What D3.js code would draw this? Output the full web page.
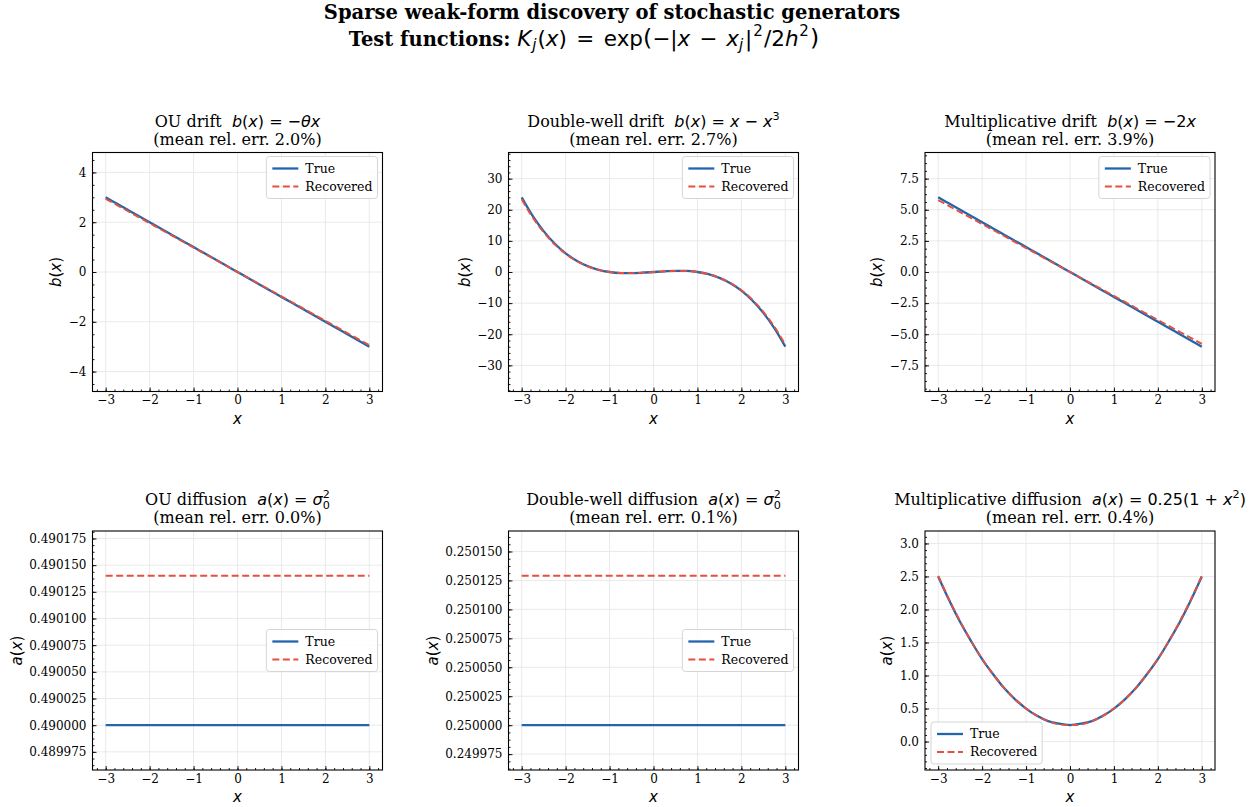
<!DOCTYPE html>
<html lang="en">
<head>
<meta charset="utf-8">
<script src="https://d3js.org/d3.v7.min.js"></script>
<style>
  body { margin: 0; background: #ffffff; }
  svg { display: block; }
  text { white-space: pre; }
  .tick text { font-family: "DejaVu Serif", serif; font-size: 12px; fill: #000; }
  .tick line { stroke: #000; stroke-width: 0.9; }
  .grid line { stroke: #e4e4e4; stroke-width: 0.8; }
</style>
</head>
<body>
<script>
// ---- data ----
var xs = [-3, -2.75, -2.5, -2.25, -2, -1.75, -1.5, -1.25, -1, -0.75, -0.5, -0.25, 0,
          0.25, 0.5, 0.75, 1, 1.25, 1.5, 1.75, 2, 2.25, 2.5, 2.75, 3];
var xsFlat = [-3, 3];

// OU drift
var ouTrue = [3, 2.75, 2.5, 2.25, 2, 1.75, 1.5, 1.25, 1, 0.75, 0.5, 0.25, 0,
              -0.25, -0.5, -0.75, -1, -1.25, -1.5, -1.75, -2, -2.25, -2.5, -2.75, -3];
var ouRec = [2.94, 2.695, 2.45, 2.205, 1.96, 1.715, 1.47, 1.225, 0.98, 0.735, 0.49, 0.245, 0,
             -0.245, -0.49, -0.735, -0.98, -1.225, -1.47, -1.715, -1.96, -2.205, -2.45, -2.695, -2.94];
// double-well drift
var dwTrue = [24, 18.05, 13.13, 9.14, 6, 3.61, 1.88, 0.70, 0, -0.33, -0.38, -0.23, 0,
              0.23, 0.38, 0.33, 0, -0.70, -1.88, -3.61, -6, -9.14, -13.13, -18.05, -24];
var dwRec = [23.35, 17.55, 12.78, 8.9, 5.84, 3.52, 1.83, 0.69, 0, -0.31, -0.36, -0.22, 0,
             0.22, 0.36, 0.31, 0, -0.69, -1.83, -3.52, -5.84, -8.9, -12.78, -17.55, -23.35];
// multiplicative drift
var mulTrue = [6, 5.5, 5, 4.5, 4, 3.5, 3, 2.5, 2, 1.5, 1, 0.5, 0,
               -0.5, -1, -1.5, -2, -2.5, -3, -3.5, -4, -4.5, -5, -5.5, -6];
var mulRec = [5.77, 5.29, 4.81, 4.33, 3.85, 3.37, 2.89, 2.4, 1.92, 1.44, 0.96, 0.48, 0,
              -0.48, -0.96, -1.44, -1.92, -2.4, -2.89, -3.37, -3.85, -4.33, -4.81, -5.29, -5.77];
// diffusions
var ouDiffTrue = [0.49, 0.49];
var ouDiffRec = [0.49014, 0.49014];
var dwDiffTrue = [0.25, 0.25];
var dwDiffRec = [0.250129, 0.250129];
var mulDiffTrue = [2.5, 2.14, 1.81, 1.52, 1.25, 1.02, 0.81, 0.64, 0.5, 0.39, 0.31, 0.27, 0.25,
                   0.27, 0.31, 0.39, 0.5, 0.64, 0.81, 1.02, 1.25, 1.52, 1.81, 2.14, 2.5];
var mulDiffRec = [2.51, 2.15, 1.82, 1.52, 1.25, 1.02, 0.81, 0.64, 0.5, 0.39, 0.31, 0.26, 0.248,
                  0.26, 0.31, 0.39, 0.5, 0.64, 0.81, 1.02, 1.25, 1.52, 1.82, 2.15, 2.51];

// tick labels
var xTicks = [-3, -2, -1, 0, 1, 2, 3];
var ticksOU = [-4, -2, 0, 2, 4];
var ticksDW = [-30, -20, -10, 0, 10, 20, 30];
var ticksMul = [-7.5, -5, -2.5, 0, 2.5, 5, 7.5];
var ticksOUd = [0.489975, 0.49, 0.490025, 0.49005, 0.490075, 0.4901, 0.490125, 0.49015, 0.490175];
var ticksDWd = [0.249975, 0.25, 0.250025, 0.25005, 0.250075, 0.2501, 0.250125, 0.25015];
var ticksMuld = [0, 0.5, 1, 1.5, 2, 2.5, 3];
var seriesNames = ["True", "Recovered"];

var W = 1256, H = 807;
var trueColor = "#2166ac", recColor = "#e5503f";
var SERIF = "'DejaVu Serif', serif", MATH = "'DejaVu Sans', sans-serif";

var svg = d3.select("body").append("svg").attr("width", W).attr("height", H);

// write mixed serif / math text into a <text> using tspans
// seg: [text, kind, pos, dx]  kind: s serif, b bold serif, i math italic, r math roman ; pos: sup/sub
// fsB: optional size for the bold / serif parts
function richText(sel, segs, fs, fsB) {
  var cur = 0;
  segs.forEach(function(sg) {
    var t = sel.append("tspan").text(sg[0]);
    var k = sg[1], pos = sg[2];
    var size = fs;
    if (k === "s") { t.style("font-family", SERIF); size = fsB || fs; }
    if (k === "b") { t.style("font-family", SERIF).style("font-weight", "bold"); size = fsB || fs; }
    if (k === "i") t.style("font-family", MATH).style("font-style", "italic");
    if (k === "r") t.style("font-family", MATH);
    if (k === "big") { t.style("font-family", MATH); size = fs * 1.1; }
    var target = 0;
    if (pos === "sup") { size = fs * 0.7; target = -0.42 * fs; }
    if (pos === "sub") { size = fs * 0.7; target = 0.22 * fs; }
    if (sg[3]) t.attr("dx", sg[3] * size);
    t.style("font-size", size + "px");
    if (target !== cur) { t.attr("dy", target - cur); cur = target; }
  });
}

// suptitle
svg.append("text").attr("x", 612).attr("y", 19).attr("text-anchor", "middle")
  .style("font-family", SERIF).style("font-weight", "bold").style("font-size", "19.5px")
  .text("Sparse weak-form discovery of stochastic generators");
richText(svg.append("text").attr("x", 584).attr("y", 45.5).attr("text-anchor", "middle"), [
  ["Test functions: ", "b"], ["K", "i"], ["j", "i", "sub", 0.05], ["(", "r", null, 0.05], ["x", "i"], [")", "r"],
  [" = ", "r", null, 0.12], ["exp", "r", null, 0.12], ["(", "big"], ["\u2212|", "r"], ["x", "i"],
  [" \u2212 ", "r", null, 0.1], ["x", "i", null, 0.1], ["j", "i", "sub"], ["|", "r", null, 0.08],
  ["2", "r", "sup", 0.08], ["/2", "r", null, 0.05], ["h", "i"], ["2", "r", "sup", 0.05], [")", "big", null, 0.05]
], 21.5, 19.5);

var colsX = [92.5, 508.5, 925], rowsY = [152.5, 531], pw = 290, ph = 239;

var panels = [
  { c: 0, r: 0, x: xs, t: ouTrue, rec: ouRec, yt: ticksOU, minor: 0.5, fmt: d3.format("d"), lab: "b", leg: "ur",
    title: [["OU drift  ", "s"], ["b", "i"], ["(", "r"], ["x", "i"], [") = \u2212", "r"], ["\u03b8x", "i"]], err: "2.0%" },
  { c: 1, r: 0, x: xs, t: dwTrue, rec: dwRec, yt: ticksDW, minor: 2, fmt: d3.format("d"), lab: "b", leg: "ur",
    title: [["Double-well drift  ", "s"], ["b", "i"], ["(", "r"], ["x", "i"], [") = ", "r"], ["x", "i"], [" \u2212 ", "r"], ["x", "i"], ["3", "r", "sup"]], err: "2.7%" },
  { c: 2, r: 0, x: xs, t: mulTrue, rec: mulRec, yt: ticksMul, minor: 0.625, fmt: d3.format(".1f"), lab: "b", leg: "ur",
    title: [["Multiplicative drift  ", "s"], ["b", "i"], ["(", "r"], ["x", "i"], [") = \u22122", "r"], ["x", "i"]], err: "3.9%" },
  { c: 0, r: 1, x: xsFlat, t: ouDiffTrue, rec: ouDiffRec, yt: ticksOUd, minor: 0.00000625, fmt: d3.format(".6f"), lab: "a", leg: "cr",
    title: [["OU diffusion  ", "s"], ["a", "i"], ["(", "r"], ["x", "i"], [") = ", "r"], ["\u03c3", "i"], ["2", "r", "sup"], ["0", "r", "sub", -0.636]], err: "0.0%" },
  { c: 1, r: 1, x: xsFlat, t: dwDiffTrue, rec: dwDiffRec, yt: ticksDWd, minor: 0.00000625, fmt: d3.format(".6f"), lab: "a", leg: "cr",
    title: [["Double-well diffusion  ", "s"], ["a", "i"], ["(", "r"], ["x", "i"], [") = ", "r"], ["\u03c3", "i"], ["2", "r", "sup"], ["0", "r", "sub", -0.636]], err: "0.1%" },
  { c: 2, r: 1, x: xs, t: mulDiffTrue, rec: mulDiffRec, yt: ticksMuld, minor: 0.1, fmt: d3.format(".1f"), lab: "a", leg: "ll",
    title: [["Multiplicative diffusion  ", "s"], ["a", "i"], ["(", "r"], ["x", "i"], [") = 0.25(1 + ", "r"], ["x", "i"], ["2", "r", "sup"], [")", "r"]], err: "0.4%" }
];

var line = d3.line().curve(d3.curveMonotoneX);

function minorTicks(lo, hi, step) {
  var out = [];
  var n0 = Math.ceil(lo / step - 1e-9), n1 = Math.floor(hi / step + 1e-9);
  for (var n = n0; n <= n1; n++) out.push(n * step);
  return out;
}

panels.forEach(function(p) {
  var left = colsX[p.c], top = rowsY[p.r];
  var g = svg.append("g").attr("transform", "translate(" + left + "," + top + ")");

  var x = d3.scaleLinear().domain([-3.3, 3.3]).range([0, pw]);
  var all = p.t.concat(p.rec);
  var lo = d3.min(all), hi = d3.max(all), span = hi - lo;
  var y = d3.scaleLinear().domain([lo - 0.3 * span, hi + 0.3 * span]).range([ph, 0]);

  // grid
  var grid = g.append("g").attr("class", "grid");
  grid.selectAll(".gx").data(xTicks).enter().append("line")
    .attr("x1", function(d) { return x(d); }).attr("x2", function(d) { return x(d); })
    .attr("y1", 0).attr("y2", ph);
  grid.selectAll(".gy").data(p.yt).enter().append("line")
    .attr("y1", function(d) { return y(d); }).attr("y2", function(d) { return y(d); })
    .attr("x1", 0).attr("x2", pw);

  // minor ticks
  g.append("g").attr("transform", "translate(0," + ph + ")")
    .call(d3.axisBottom(x).tickValues(minorTicks(-3.3, 3.3, 0.2)).tickSize(-2).tickFormat(""))
    .call(function(a) { a.select(".domain").remove(); });
  g.append("g")
    .call(d3.axisLeft(y).tickValues(minorTicks(y.domain()[0], y.domain()[1], p.minor)).tickSize(-2).tickFormat(""))
    .call(function(a) { a.select(".domain").remove(); });

  // major ticks
  g.append("g").attr("transform", "translate(0," + ph + ")")
    .call(d3.axisBottom(x).tickValues(xTicks).tickSize(-4).tickPadding(4).tickFormat(d3.format("d")))
    .call(function(a) { a.select(".domain").remove(); });
  var yax = g.append("g")
    .call(d3.axisLeft(y).tickValues(p.yt).tickSize(-4).tickPadding(6).tickFormat(p.fmt))
    .call(function(a) { a.select(".domain").remove(); });

  // curves
  var ptsT = p.x.map(function(v, i) { return [x(v), y(p.t[i])]; });
  var ptsR = p.x.map(function(v, i) { return [x(v), y(p.rec[i])]; });
  g.append("path").attr("d", line(ptsT)).attr("fill", "none")
    .attr("stroke", trueColor).attr("stroke-width", 2.3);
  g.append("path").attr("d", line(ptsR)).attr("fill", "none")
    .attr("stroke", recColor).attr("stroke-width", 1.9).attr("stroke-dasharray", "7,3.5");

  // frame
  g.append("rect").attr("width", pw).attr("height", ph)
    .attr("fill", "none").attr("stroke", "#000").attr("stroke-width", 1.1);

  // labels
  var maxW = 0;
  yax.selectAll(".tick text").each(function() { maxW = Math.max(maxW, this.getBBox().width); });
  var lx = -6 - maxW - 7.5;
  richText(g.append("text").attr("text-anchor", "middle")
      .attr("transform", "translate(" + lx + "," + (ph / 2) + ") rotate(-90)"),
    [[p.lab, "i"], ["(", "r"], ["x", "i"], [")", "r"]], 15);
  richText(g.append("text").attr("text-anchor", "middle").attr("x", pw / 2).attr("y", ph + 32),
    [["x", "i"]], 15);

  // title
  richText(g.append("text").attr("text-anchor", "middle").attr("x", pw / 2).attr("y", -26), p.title, 16);
  g.append("text").attr("text-anchor", "middle").attr("x", pw / 2).attr("y", -8)
    .style("font-family", SERIF).style("font-size", "16px")
    .text("(mean rel. err. " + p.err + ")");

  // legend
  var lg = g.append("g");
  var box = lg.append("rect").attr("rx", 3).attr("fill", "#fff").attr("fill-opacity", 0.85)
    .attr("stroke", "#d0d0d0").attr("stroke-width", 0.9);
  var tw = 0;
  seriesNames.forEach(function(name, i) {
    var cy = 12 + i * 18;
    lg.append("line").attr("x1", 6).attr("x2", 32).attr("y1", cy).attr("y2", cy)
      .attr("stroke", i === 0 ? trueColor : recColor).attr("stroke-width", i === 0 ? 2.3 : 1.9)
      .attr("stroke-dasharray", i === 0 ? null : "7,3.5");
    var tx = lg.append("text").attr("x", 39).attr("y", cy).attr("dy", "0.35em")
      .style("font-family", SERIF).style("font-size", "12.5px").text(name);
    tw = Math.max(tw, tx.node().getComputedTextLength());
  });
  var bw = 39 + tw + 5, bh = 42;
  box.attr("width", bw).attr("height", bh);
  var bx, by;
  if (p.leg === "ur") { bx = pw - 5 - bw; by = 4; }
  if (p.leg === "cr") { bx = pw - 5 - bw; by = ph / 2 - bh / 2; }
  if (p.leg === "ll") { bx = 6; by = ph - 6 - bh; }
  lg.attr("transform", "translate(" + bx + "," + by + ")");
});
</script>
</body>
</html>
